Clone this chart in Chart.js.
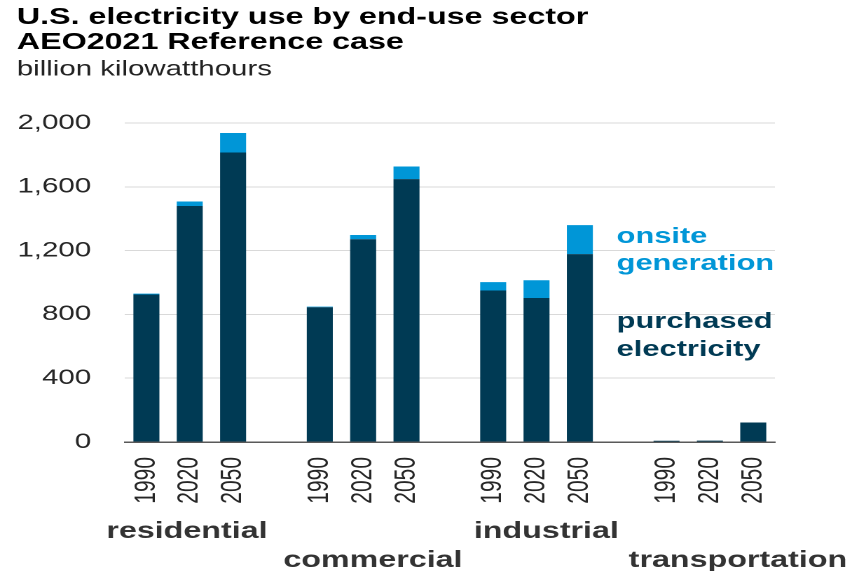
<!DOCTYPE html>
<html>
<head>
<meta charset="utf-8">
<script src="https://cdn.jsdelivr.net/npm/chart.js@4.4.1/dist/chart.umd.min.js"></script>
<style>
  html, body { margin: 0; padding: 0; background: #fff; overflow: hidden; }
  /* the reference is stretched sideways, so the chart is drawn narrow and widened */
  #wrap { width: 608px; height: 571px; transform: scaleX(1.4013); transform-origin: 0 0; }
</style>
</head>
<body>
<div id="wrap"><canvas id="chart"></canvas></div>
<script>
// data (billion kWh)
const sectors = ['residential', 'commercial', 'industrial', 'transportation'];
const years = ['1990', '2020', '2050'];
const purchased = [925, 1480, 1815, 845, 1271, 1648, 950, 903, 1178, 8, 9, 122];
const onsite = [5, 28, 122, 4, 27, 79, 52, 111, 182, 0, 0, 0];
const yTicks = [0, 400, 800, 1200, 1600, 2000];

const DARK = '#003a54';
const LIGHT = '#0096d7';
const FONT = '"Liberation Sans", Arial, sans-serif';

// build slots with an empty slot between sectors
const labels = [], purchasedData = [], onsiteData = [], groupMid = [];
sectors.forEach((s, i) => {
  if (i > 0) { labels.push(''); purchasedData.push(null); onsiteData.push(null); }
  years.forEach((y, j) => {
    if (j === 1) groupMid.push(labels.length);
    labels.push(y);
    purchasedData.push(purchased[i * 3 + j]);
    onsiteData.push(onsite[i * 3 + j]);
  });
});

// sector names under the years, and the text legend on the right
const nudge = [-2, 7, 7, 20];
const extraText = {
  id: 'extraText',
  afterDraw(chart) {
    const { ctx } = chart;
    const x = chart.scales.x;
    ctx.save();
    ctx.textBaseline = 'alphabetic';
    ctx.font = 'bold 23px ' + FONT;
    ctx.fillStyle = '#333';
    ctx.textAlign = 'center';
    sectors.forEach((s, i) => {
      const w = ctx.measureText(s).width;
      let cx = x.getPixelForValue(groupMid[i]) + nudge[i];
      cx = Math.min(cx, chart.width - 1 - w / 2);
      ctx.fillText(s, cx, i % 2 ? 567 : 538);
    });

    ctx.textAlign = 'left';
    ctx.font = 'bold 22px ' + FONT;
    const lx = 440;
    ctx.fillStyle = LIGHT;
    ctx.fillText('onsite', lx, 243);
    ctx.fillText('generation', lx, 270);
    ctx.fillStyle = DARK;
    ctx.fillText('purchased', lx, 328);
    ctx.fillText('electricity', lx, 356);
    ctx.restore();
  }
};

new Chart(document.getElementById('chart'), {
  type: 'bar',
  data: {
    labels: labels,
    datasets: [
      { label: 'purchased electricity', data: purchasedData, backgroundColor: DARK },
      { label: 'onsite generation', data: onsiteData, backgroundColor: LIGHT }
    ]
  },
  options: {
    responsive: true,
    maintainAspectRatio: false,
    devicePixelRatio: 2,
    animation: false,
    layout: { padding: { left: 12, right: 55, top: 0, bottom: 67 } },
    datasets: { bar: { barPercentage: 0.6, categoryPercentage: 1.0 } },
    plugins: {
      legend: { display: false },
      tooltip: { enabled: false },
      title: {
        display: true,
        text: ['U.S. electricity use by end-use sector', 'AEO2021 Reference case'],
        align: 'start',
        color: '#000',
        font: { family: FONT, size: 23, weight: 'bold', lineHeight: 25 / 23 },
        padding: { top: 5, bottom: 2 }
      },
      subtitle: {
        display: true,
        text: 'billion kilowatthours',
        align: 'start',
        color: '#222',
        font: { family: FONT, size: 21, lineHeight: 25 / 21 },
        padding: { top: 0, bottom: 41 }
      }
    },
    scales: {
      x: {
        stacked: true,
        grid: { display: false, drawTicks: false },
        border: { display: true, color: '#595959', width: 1.5 },
        ticks: {
          autoSkip: false, minRotation: 90, maxRotation: 90, padding: 15,
          color: '#262626', font: { family: FONT, size: 21 }
        },
        afterFit: s => { s.height = 62; }
      },
      y: {
        stacked: true,
        min: 0,
        max: 2000,
        afterBuildTicks: s => { s.ticks = yTicks.map(v => ({ value: v })); },
        afterFit: s => { s.width = 77; },
        grid: { color: '#d9d9d9', lineWidth: 1, drawTicks: false },
        border: { display: false },
        ticks: {
          padding: 24,
          color: '#262626',
          font: { family: FONT, size: 21 },
          callback: v => v.toLocaleString('en-US')
        }
      }
    }
  },
  plugins: [extraText]
});
</script>
</body>
</html>
